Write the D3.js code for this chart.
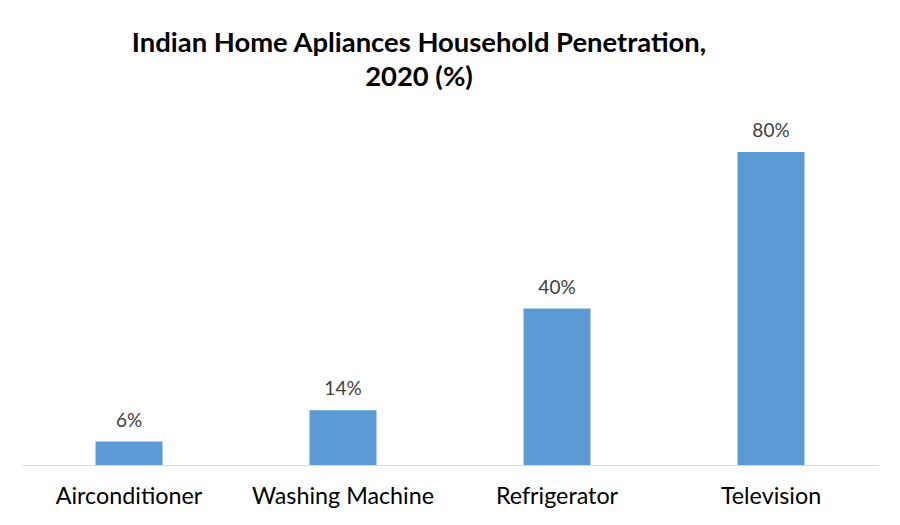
<!DOCTYPE html>
<html>
<head>
<meta charset="utf-8">
<script src="https://cdn.jsdelivr.net/npm/d3@7"></script>
<style>
  html, body { margin: 0; padding: 0; background: #fff; }
  svg { display: block; }
</style>
</head>
<body>
<svg id="chart" width="900" height="525"></svg>
<script>
const categories = ["Airconditioner", "Washing Machine", "Refrigerator", "Television"];
const values = [6, 14, 40, 80];
const valueLabels = ["6%", "14%", "40%", "80%"];
const titleLines = ["Indian Home Apliances Household Penetration,", "2020 (%)"];

const svg = d3.select("#chart");
const baseline = 465;

const x = d3.scaleBand()
  .domain(categories)
  .range([22, 878])
  .paddingInner(0.687)
  .paddingOuter(0.3435);

const y = d3.scaleLinear()
  .domain([0, 80])
  .range([baseline, 152]);

// title
svg.append("text")
  .attr("x", 419)
  .attr("y", 52)
  .attr("text-anchor", "middle")
  .style("font-family", "Lato, 'Open Sans', sans-serif")
  .style("font-weight", "bold")
  .style("font-size", "27.4px")
  .style("fill", "#000")
  .selectAll("tspan")
  .data(titleLines)
  .join("tspan")
  .attr("x", 419)
  .attr("dy", (d, i) => i === 0 ? 0 : 34)
  .text(d => d);

// bars
svg.append("g")
  .selectAll("rect")
  .data(values)
  .join("rect")
  .attr("x", (d, i) => x(categories[i]))
  .attr("width", x.bandwidth())
  .attr("y", d => y(d))
  .attr("height", d => baseline - y(d))
  .attr("fill", "#5B9BD5");

// axis
const xAxis = d3.axisBottom(x).tickSize(0).tickPadding(0);
const gx = svg.append("g")
  .attr("transform", `translate(0,${baseline})`)
  .call(xAxis);
gx.select(".domain").attr("stroke", "#d9d9d9").attr("stroke-width", 1);
gx.selectAll(".tick text")
  .attr("dy", null)
  .attr("y", 39)
  .style("font-family", "Lato, 'Open Sans', sans-serif")
  .style("font-size", "23.3px")
  .style("fill", "#000");

// value labels
svg.append("g")
  .selectAll("text")
  .data(values)
  .join("text")
  .attr("x", (d, i) => x(categories[i]) + x.bandwidth() / 2)
  .attr("y", d => y(d) - 15)
  .attr("text-anchor", "middle")
  .style("font-family", "Lato, 'Open Sans', sans-serif")
  .style("font-size", "19px")
  .style("fill", "#404040")
  .text((d, i) => valueLabels[i]);
</script>
</body>
</html>
